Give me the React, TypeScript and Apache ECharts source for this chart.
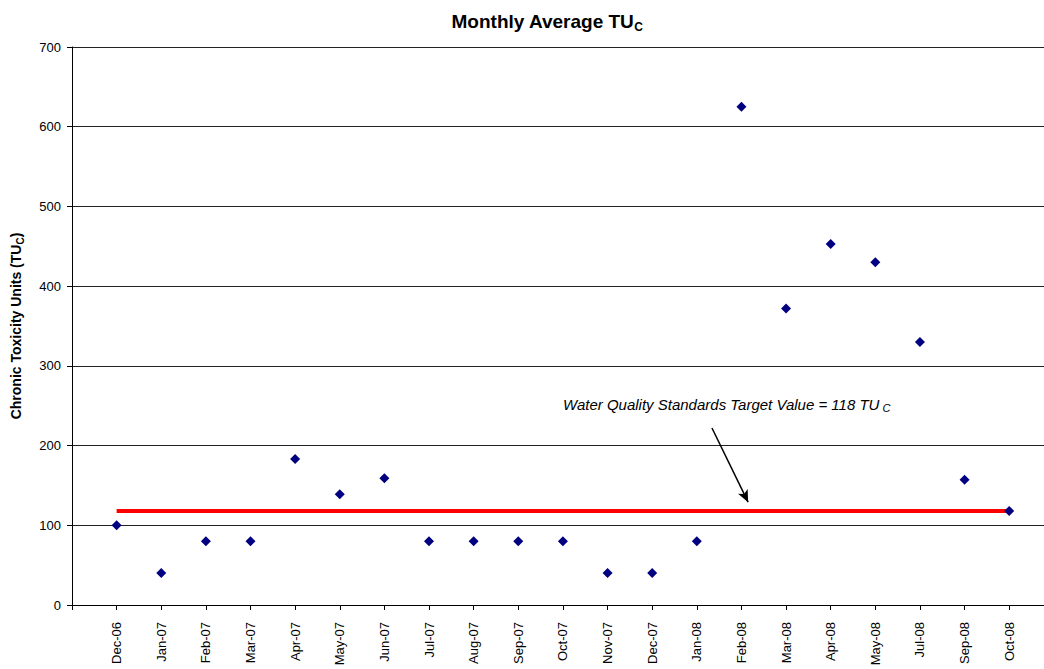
import React, { useEffect, useRef } from "react";
import * as echarts from "echarts";

const categories = [
  "Dec-06", "Jan-07", "Feb-07", "Mar-07", "Apr-07", "May-07", "Jun-07",
  "Jul-07", "Aug-07", "Sep-07", "Oct-07", "Nov-07", "Dec-07", "Jan-08",
  "Feb-08", "Mar-08", "Apr-08", "May-08", "Jul-08", "Sep-08", "Oct-08",
];
const values = [
  100, 40, 80, 80, 183, 139, 159, 80, 80, 80, 80, 40, 40, 80,
  625, 372, 453, 430, 330, 157, 118,
];
const yTicks = [0, 100, 200, 300, 400, 500, 600, 700];
const TARGET = 118;
const arrowStart = [14.34, 222];
const arrowEnd = [15.15, 129];

const FONT = 'Arial, "Liberation Sans", sans-serif';

export default function App() {
  const ref = useRef<HTMLDivElement>(null);
  useEffect(() => {
    document.body.style.margin = "0";
    const chart = echarts.init(ref.current!, null, { renderer: "svg" });
    const points = values.map((v, i) => [i + 1, v]);
    chart.setOption({
      animation: false,
      backgroundColor: "#ffffff",
      textStyle: { fontFamily: FONT },
      title: {
        text: "{a|Monthly Average TU}{b|C}",
        left: 542,
        textAlign: "center",
        top: 4,
        textStyle: {
          rich: {
            a: { fontSize: 19, fontWeight: "bold", color: "#000", fontFamily: FONT, lineHeight: 24 },
            b: { fontSize: 12, fontWeight: "bold", color: "#000", fontFamily: FONT, lineHeight: 24, verticalAlign: "bottom" },
          },
        },
      },
      grid: { left: 72, right: 0, top: 47, bottom: 64, containLabel: false },
      xAxis: {
        type: "value",
        min: 0,
        max: 21.78,
        interval: 1,
        axisLine: { show: true, lineStyle: { color: "#000", width: 1 } },
        axisTick: { show: true, length: 5, lineStyle: { color: "#000" } },
        splitLine: { show: false },
        axisLabel: {
          rotate: 90,
          fontSize: 13,
          color: "#000",
          fontFamily: FONT,
          margin: 17,
          showMaxLabel: false,
          formatter: (v: number) =>
            Number.isInteger(v) && v >= 1 && v <= categories.length ? categories[v - 1] : "",
        },
      },
      yAxis: {
        type: "value",
        min: yTicks[0],
        max: yTicks[yTicks.length - 1],
        interval: 100,
        name: "{a|Chronic Toxicity Units (TU}{b|C}{a|)}",
        nameLocation: "middle",
        nameGap: 47,
        nameRotate: 90,
        nameTextStyle: {
          rich: {
            a: { fontSize: 14, fontWeight: "bold", color: "#000", fontFamily: FONT, lineHeight: 18 },
            b: { fontSize: 10, fontWeight: "bold", color: "#000", fontFamily: FONT, lineHeight: 18, verticalAlign: "bottom" },
          },
        },
        axisLine: { show: true, lineStyle: { color: "#000", width: 1 } },
        axisTick: { show: true, length: 5, lineStyle: { color: "#000" } },
        splitLine: { show: true, lineStyle: { color: "#222", width: 1 } },
        axisLabel: { fontSize: 13, color: "#000", fontFamily: FONT, margin: 11 },
      },
      series: [
        {
          type: "line",
          data: [[1, TARGET], [categories.length, TARGET]],
          showSymbol: false,
          lineStyle: { color: "#ff0000", width: 4 },
          z: 2,
          silent: true,
          markLine: {
            silent: true,
            symbol: ["none", "arrow"],
            symbolSize: [8, 12],
            label: { show: false },
            lineStyle: { color: "#000", width: 1.5, type: "solid" },
            data: [[{ coord: arrowStart }, { coord: arrowEnd }]],
          },
        },
        {
          type: "scatter",
          data: points,
          symbol: "diamond",
          symbolSize: 10,
          itemStyle: { color: "#000080", opacity: 1 },
          z: 3,
        },
      ],
      graphic: [
        {
          type: "text",
          left: 563,
          top: 397,
          style: {
            text: "{a|Water Quality Standards Target Value = 118 TU}{b| C}",
            rich: {
              a: { fontSize: 15, fontStyle: "italic", fill: "#000", fontFamily: FONT, lineHeight: 18 },
              b: { fontSize: 11, fontStyle: "italic", fill: "#000", fontFamily: FONT, lineHeight: 18, verticalAlign: "bottom" },
            },
          },
        },
      ],
    });
    return () => chart.dispose();
  }, []);
  return <div ref={ref} style={{ width: 1044, height: 669 }} />;
}
